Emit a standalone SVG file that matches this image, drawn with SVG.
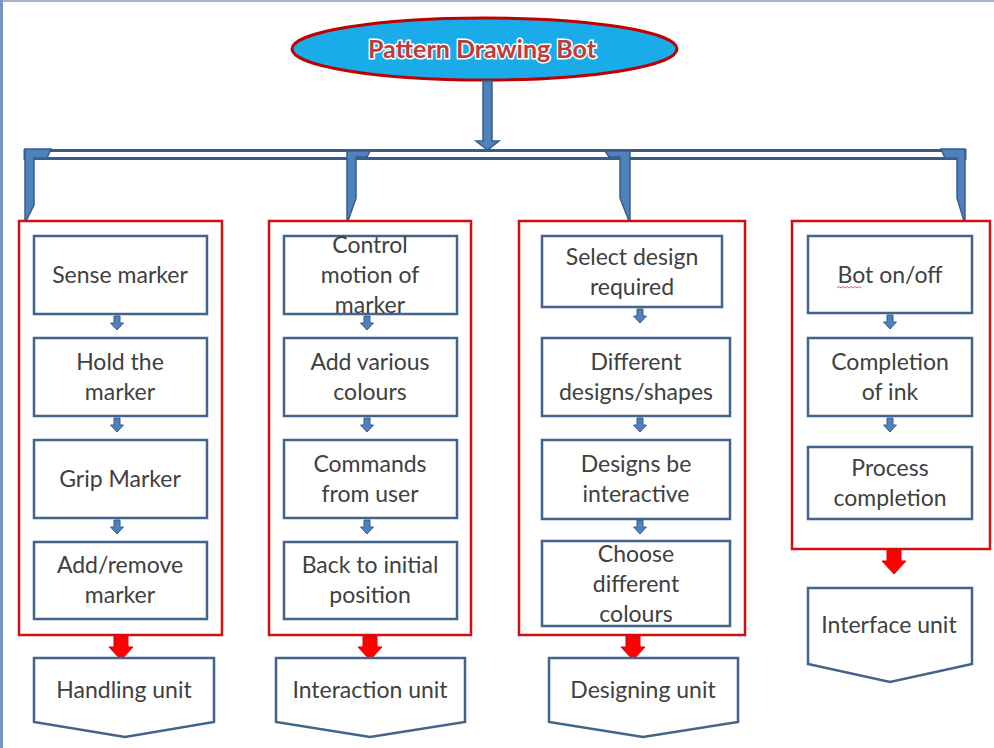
<svg xmlns="http://www.w3.org/2000/svg" xmlns:xlink="http://www.w3.org/1999/xlink" width="994" height="748" viewBox="0 0 994 748">
<style>
.grp{fill:none;stroke:#D01010;stroke-width:2.5}
.box{fill:#fff;stroke:#41648B;stroke-width:2.5}
.unit{fill:#fff;stroke:#41648B;stroke-width:2.5;stroke-linejoin:miter}
.t{font-family:Lato,"Liberation Sans",sans-serif;font-size:23px;fill:#404040;text-anchor:middle}
.blue{fill:#4F81BD;stroke:#385D8A;stroke-width:1.5;stroke-linejoin:miter}
.title{font-family:Lato,"Liberation Sans",sans-serif;font-weight:bold;font-size:25px;fill:#BF3A38;stroke:#fff;stroke-width:3;paint-order:stroke;text-anchor:middle}
</style>
<defs>
<path id="sa" d="M-3,0 H3 V7 H6.5 L0,14 L-6.5,7 H-3 Z" fill="#4F81BD" stroke="#385D8A" stroke-width="1"/>
<path id="ra" d="M-7,0 H7 V11 H12 L0,24 L-12,11 H-7 Z" fill="#FF0000" stroke="#E00000" stroke-width="1"/>
</defs>
<rect x="0" y="0" width="994" height="748" fill="#fff"/>
<rect x="0" y="0" width="994" height="2" fill="#A3B3CA"/>
<rect x="0" y="0" width="3" height="748" fill="#7B96C4"/>

<g id="root">
<ellipse cx="484.5" cy="49" rx="192.5" ry="31" fill="#1AACE8" stroke="#C00000" stroke-width="3"/>
<text class="title" x="482" y="58">Pattern Drawing Bot</text>
</g>

<g id="connectors">
<path class="blue" d="M483,81 H492 V141 H499 L487.5,150 L476,141 H483 Z"/>
<rect x="25" y="150.5" width="940" height="8" fill="#fff" stroke="#385D8A" stroke-width="3"/>
<polygon class="blue" points="25,149 51,149 47,158 34,158 34,205 26,221 25,221"/>
<polygon class="blue" points="347,151 370,151 367,157 356,157 356,198 348,221 347,221"/>
<polygon class="blue" points="605,151 630,151 630,221 629,221 620,198 620,157 609,157"/>
<polygon class="blue" points="941,149 965,149 965,221 964,221 957,198 957,158 945,158"/>
<use xlink:href="#sa" x="117" y="316"/>
<use xlink:href="#sa" x="117" y="418"/>
<use xlink:href="#sa" x="117" y="520"/>
<use xlink:href="#sa" x="367" y="316"/>
<use xlink:href="#sa" x="367" y="418"/>
<use xlink:href="#sa" x="367" y="520"/>
<use xlink:href="#sa" x="640" y="309"/>
<use xlink:href="#sa" x="640" y="418"/>
<use xlink:href="#sa" x="640" y="520"/>
<use xlink:href="#sa" x="890" y="315"/>
<use xlink:href="#sa" x="890" y="418"/>
<use xlink:href="#ra" x="121" y="636"/>
<use xlink:href="#ra" x="370" y="636"/>
<use xlink:href="#ra" x="633" y="636"/>
<use xlink:href="#ra" x="894" y="550"/>
</g>

<g id="group-handling">
<rect class="grp" x="19" y="221" width="203" height="414"/>
</g>
<g id="n-sense"><rect class="box" x="34" y="236" width="173" height="78"/><text class="t" x="120" y="283">Sense marker</text></g>
<g id="n-hold"><rect class="box" x="34" y="338" width="173" height="78"/><text class="t" x="120" y="370">Hold the</text><text class="t" x="120" y="400">marker</text></g>
<g id="n-grip"><rect class="box" x="34" y="440" width="173" height="78"/><text class="t" x="120" y="487">Grip Marker</text></g>
<g id="n-addremove"><rect class="box" x="34" y="542" width="173" height="77"/><text class="t" x="120" y="573">Add/remove</text><text class="t" x="120" y="603">marker</text></g>
<g id="u-handling"><path class="unit" d="M34,658 H214 V722 L125,737 L34,722 Z"/><text class="t" x="124" y="698">Handling unit</text></g>

<g id="group-interaction">
<rect class="grp" x="269" y="221" width="202" height="414"/>
</g>
<g id="n-control"><rect class="box" x="284" y="236" width="173" height="78"/><text class="t" x="370" y="253">Control</text><text class="t" x="370" y="283">motion of</text><text class="t" x="370" y="313">marker</text></g>
<g id="n-colours"><rect class="box" x="284" y="338" width="173" height="78"/><text class="t" x="370" y="370">Add various</text><text class="t" x="370" y="400">colours</text></g>
<g id="n-commands"><rect class="box" x="284" y="440" width="173" height="78"/><text class="t" x="370" y="472">Commands</text><text class="t" x="370" y="502">from user</text></g>
<g id="n-back"><rect class="box" x="284" y="542" width="173" height="77"/><text class="t" x="370" y="573">Back to initial</text><text class="t" x="370" y="603">position</text></g>
<g id="u-interaction"><path class="unit" d="M276,658 H465 V722 L370,737 L276,722 Z"/><text class="t" x="370" y="698">Interaction unit</text></g>

<g id="group-designing">
<rect class="grp" x="519" y="221" width="226" height="414"/>
</g>
<g id="n-select"><rect class="box" x="542" y="236" width="180" height="71"/><text class="t" x="632" y="265">Select design</text><text class="t" x="632" y="295">required</text></g>
<g id="n-different"><rect class="box" x="542" y="338" width="188" height="78"/><text class="t" x="636" y="370">Different</text><text class="t" x="636" y="400">designs/shapes</text></g>
<g id="n-interactive"><rect class="box" x="542" y="440" width="188" height="79"/><text class="t" x="636" y="472">Designs be</text><text class="t" x="636" y="502">interactive</text></g>
<g id="n-choose"><rect class="box" x="542" y="541" width="188" height="85"/><text class="t" x="636" y="562">Choose</text><text class="t" x="636" y="592">different</text><text class="t" x="636" y="622">colours</text></g>
<g id="u-designing"><path class="unit" d="M549,658 H738 V722 L643,737 L549,722 Z"/><text class="t" x="643" y="698">Designing unit</text></g>

<g id="group-interface">
<rect class="grp" x="792" y="221" width="198" height="328"/>
</g>
<g id="n-boton"><rect class="box" x="808" y="236" width="164" height="77"/><text class="t" x="890" y="283">Bot on/off</text><path d="M837,288 l2,-1.5 2,1.5 2,-1.5 2,1.5 2,-1.5 2,1.5 2,-1.5 2,1.5 2,-1.5 2,1.5 2,-1.5 2,1.5" fill="none" stroke="#E03030" stroke-width="0.8"/></g>
<g id="n-ink"><rect class="box" x="808" y="338" width="164" height="78"/><text class="t" x="890" y="370">Completion</text><text class="t" x="890" y="400">of ink</text></g>
<g id="n-process"><rect class="box" x="808" y="447" width="164" height="72"/><text class="t" x="890" y="476">Process</text><text class="t" x="890" y="506">completion</text></g>
<g id="u-interface"><path class="unit" d="M808,588 H972 V664 L890,682 L808,664 Z"/><text class="t" x="889" y="633">Interface unit</text></g>
</svg>
